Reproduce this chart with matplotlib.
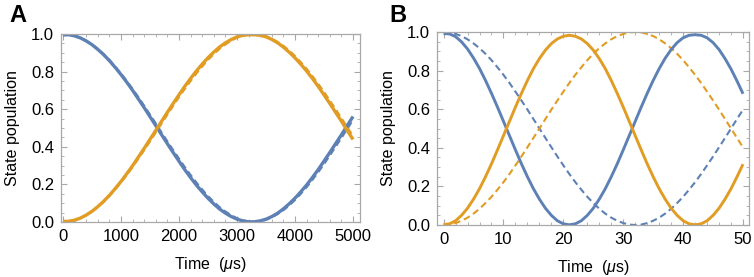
import matplotlib
matplotlib.use("Agg")
import matplotlib.pyplot as plt
from matplotlib.ticker import MultipleLocator

plt.rcParams['font.family'] = ['Liberation Sans', 'DejaVu Sans']
plt.rcParams['mathtext.fontset'] = 'custom'
plt.rcParams['mathtext.rm'] = 'Liberation Sans'
plt.rcParams['mathtext.it'] = 'Liberation Sans:italic'

# Panel A data (time in microseconds)
time_a = [0, 100, 200, 300, 400, 500, 600, 700, 800, 900, 1000, 1100, 1200, 1300,
          1400, 1500, 1600, 1700, 1800, 1900, 2000, 2100, 2200, 2300, 2400, 2500,
          2600, 2700, 2800, 2900, 3000, 3100, 3200, 3300, 3400, 3500, 3600, 3700,
          3800, 3900, 4000, 4100, 4200, 4300, 4400, 4500, 4600, 4700, 4800, 4900, 5000]
blue_a_exp = [0.995, 0.996, 0.990, 0.979, 0.963, 0.943, 0.918, 0.890, 0.858, 0.822,
              0.784, 0.743, 0.700, 0.654, 0.608, 0.560, 0.512, 0.464, 0.416, 0.369,
              0.323, 0.278, 0.236, 0.196, 0.160, 0.126, 0.096, 0.069, 0.047, 0.029,
              0.015, 0.006, 0.001, 0.001, 0.006, 0.015, 0.029, 0.047, 0.070, 0.097,
              0.127, 0.161, 0.197, 0.237, 0.279, 0.324, 0.370, 0.417, 0.464, 0.513, 0.561]
orange_a_exp = [0.003, 0.004, 0.010, 0.021, 0.037, 0.057, 0.082, 0.110, 0.142, 0.178,
                0.216, 0.257, 0.300, 0.346, 0.392, 0.440, 0.488, 0.536, 0.584, 0.631,
                0.677, 0.722, 0.764, 0.804, 0.840, 0.874, 0.904, 0.931, 0.953, 0.971,
                0.985, 0.993, 0.996, 0.996, 0.993, 0.985, 0.971, 0.953, 0.930, 0.903,
                0.873, 0.839, 0.803, 0.763, 0.721, 0.676, 0.630, 0.583, 0.536, 0.487, 0.439]
blue_a_th = [1.000, 0.998, 0.991, 0.980, 0.964, 0.944, 0.921, 0.893, 0.862, 0.827,
             0.790, 0.750, 0.708, 0.664, 0.618, 0.571, 0.524, 0.476, 0.429, 0.382,
             0.337, 0.292, 0.250, 0.210, 0.173, 0.138, 0.107, 0.079, 0.056, 0.036,
             0.020, 0.009, 0.002, 0.000, 0.002, 0.012, 0.025, 0.042, 0.063, 0.088,
             0.117, 0.150, 0.185, 0.224, 0.265, 0.308, 0.354, 0.400, 0.447, 0.495, 0.543]
orange_a_th = [0.000, 0.002, 0.009, 0.020, 0.036, 0.056, 0.079, 0.107, 0.138, 0.173,
               0.210, 0.250, 0.292, 0.337, 0.382, 0.429, 0.476, 0.524, 0.571, 0.618,
               0.664, 0.708, 0.750, 0.790, 0.827, 0.862, 0.893, 0.921, 0.944, 0.964,
               0.980, 0.991, 0.998, 1.000, 0.998, 0.988, 0.975, 0.958, 0.937, 0.912,
               0.883, 0.850, 0.815, 0.776, 0.735, 0.692, 0.646, 0.600, 0.553, 0.505, 0.457]

# Panel B data (time in microseconds)
time_b = [0, 1, 2, 3, 4, 5, 6, 7, 8, 9, 10, 11, 12, 13, 14, 15, 16, 17, 18, 19, 20,
          21, 22, 23, 24, 25, 26, 27, 28, 29, 30, 31, 32, 33, 34, 35, 36, 37, 38, 39,
          40, 41, 42, 43, 44, 45, 46, 47, 48, 49, 50]
blue_b_exp = [0.992, 0.990, 0.976, 0.949, 0.912, 0.865, 0.811, 0.749, 0.682, 0.611,
              0.537, 0.463, 0.389, 0.317, 0.250, 0.188, 0.134, 0.087, 0.050, 0.022,
              0.006, 0.001, 0.006, 0.022, 0.050, 0.087, 0.134, 0.188, 0.250, 0.317,
              0.389, 0.463, 0.537, 0.611, 0.682, 0.749, 0.810, 0.864, 0.909, 0.945,
              0.970, 0.983, 0.986, 0.983, 0.970, 0.945, 0.909, 0.862, 0.808, 0.746, 0.680]
orange_b_exp = [0.002, 0.006, 0.022, 0.050, 0.087, 0.134, 0.188, 0.250, 0.317, 0.389,
                0.463, 0.537, 0.611, 0.682, 0.749, 0.810, 0.862, 0.906, 0.940, 0.964,
                0.978, 0.983, 0.978, 0.964, 0.940, 0.906, 0.862, 0.810, 0.749, 0.682,
                0.611, 0.537, 0.463, 0.389, 0.317, 0.250, 0.188, 0.134, 0.087, 0.050,
                0.022, 0.006, 0.001, 0.006, 0.022, 0.050, 0.087, 0.134, 0.188, 0.250, 0.315]
blue_b_th = [1.000, 0.998, 0.990, 0.979, 0.962, 0.941, 0.916, 0.887, 0.854, 0.817,
             0.778, 0.736, 0.691, 0.645, 0.598, 0.549, 0.500, 0.451, 0.403, 0.355,
             0.309, 0.264, 0.222, 0.183, 0.146, 0.114, 0.084, 0.059, 0.038, 0.022,
             0.010, 0.002, 0.000, 0.002, 0.010, 0.022, 0.038, 0.059, 0.084, 0.114,
             0.146, 0.183, 0.222, 0.264, 0.309, 0.355, 0.403, 0.451, 0.500, 0.549, 0.598]
orange_b_th = [0.000, 0.002, 0.010, 0.022, 0.038, 0.059, 0.084, 0.114, 0.146, 0.183,
               0.222, 0.264, 0.309, 0.355, 0.403, 0.451, 0.500, 0.549, 0.598, 0.645,
               0.691, 0.736, 0.778, 0.817, 0.854, 0.887, 0.916, 0.941, 0.962, 0.979,
               0.990, 0.998, 1.000, 0.998, 0.990, 0.979, 0.962, 0.941, 0.916, 0.887,
               0.854, 0.817, 0.778, 0.736, 0.691, 0.645, 0.598, 0.549, 0.500, 0.451, 0.402]

BLUE = '#5E81B5'
ORANGE = '#E19C24'
FRAME = '#A8A8A8'
DASH = (0, (3.2, 1.9))

fig = plt.figure(figsize=(7.54, 2.77), dpi=100)
ax_a = fig.add_axes([61 / 754, 55 / 277, 299 / 754, 188 / 277])
ax_b = fig.add_axes([437 / 754, 52 / 277, 312 / 754, 193 / 277])


def style(ax, xmajor, xminor):
    for s in ax.spines.values():
        s.set_color(FRAME)
        s.set_linewidth(0.9)
    ax.xaxis.set_major_locator(MultipleLocator(xmajor))
    ax.xaxis.set_minor_locator(MultipleLocator(xminor))
    ax.yaxis.set_major_locator(MultipleLocator(0.2))
    ax.yaxis.set_minor_locator(MultipleLocator(0.05))
    ax.tick_params(which='both', direction='in', top=True, right=True,
                   color=FRAME, labelsize=12, pad=5)
    ax.tick_params(which='major', length=4, width=0.8)
    ax.tick_params(which='minor', length=2.2, width=0.6)
    ax.set_ylim(0, 1.0)
    ax.set_ylabel('State population', fontsize=11.5, labelpad=8)
    ax.set_xlabel('Time  ($\\mu$s)', fontsize=11.5, labelpad=8)
    ax.yaxis.set_major_formatter(plt.FuncFormatter(lambda v, p: f'{v:.1f}'))


ax_a.plot(time_a, blue_a_th, color=BLUE, lw=1.5, ls=DASH)
ax_a.plot(time_a, orange_a_th, color=ORANGE, lw=1.5, ls=DASH)
ax_a.plot(time_a, blue_a_exp, color=BLUE, lw=2.4, solid_capstyle='butt')
ax_a.plot(time_a, orange_a_exp, color=ORANGE, lw=2.4, solid_capstyle='butt')
style(ax_a, 1000, 200)
ax_a.set_xlim(-35, 5120)

ax_b.plot(time_b, blue_b_th, color=BLUE, lw=1.5, ls=DASH)
ax_b.plot(time_b, orange_b_th, color=ORANGE, lw=1.5, ls=DASH)
ax_b.plot(time_b, blue_b_exp, color=BLUE, lw=2.1, solid_capstyle='butt')
ax_b.plot(time_b, orange_b_exp, color=ORANGE, lw=2.1, solid_capstyle='butt')
style(ax_b, 10, 2)
ax_b.set_xlim(-1.1, 51.0)

fig.text(0.012, 0.985, 'A', fontsize=17, fontweight='bold', va='top', ha='left')
fig.text(0.517, 0.985, 'B', fontsize=17, fontweight='bold', va='top', ha='left')

fig.savefig('out.png', dpi=100)
